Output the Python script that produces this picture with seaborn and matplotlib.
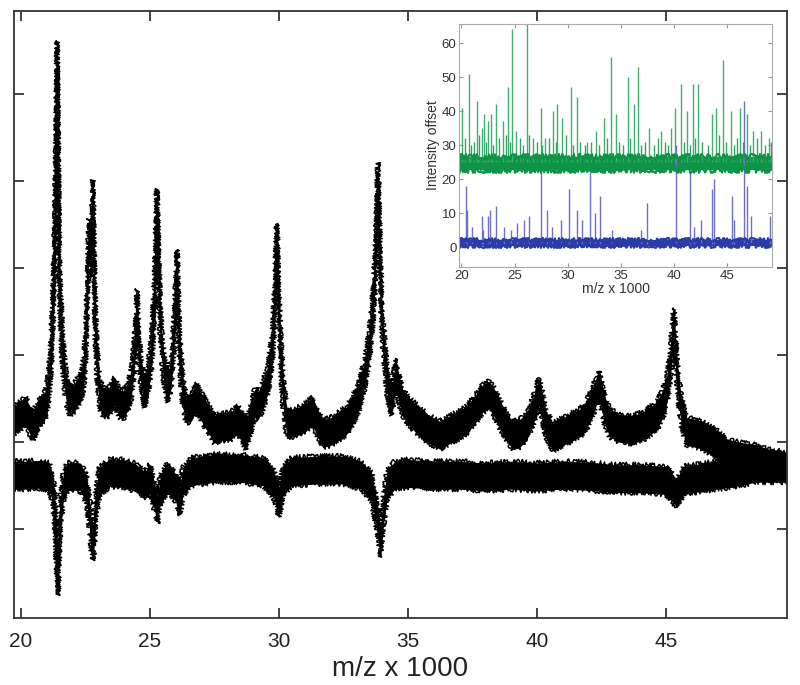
import numpy as np
import pandas as pd
import seaborn as sns
import matplotlib.pyplot as plt

# main panel: upper (positive) spectrum, centre of the noise band
upper_mz = [19.73, 19.95, 20.16, 20.30, 20.47, 20.62, 20.74, 20.90, 21.00, 21.10,
            21.18, 21.26, 21.32, 21.37, 21.40, 21.43, 21.47, 21.52, 21.60, 21.70,
            21.80, 21.90, 22.05, 22.20, 22.35, 22.45, 22.52, 22.58, 22.64, 22.70,
            22.75, 22.79, 22.83, 22.88, 22.95, 23.05, 23.20, 23.40, 23.64, 23.80,
            23.95, 24.10, 24.25, 24.35, 24.45, 24.50, 24.55, 24.65, 24.80, 24.95,
            25.08, 25.17, 25.23, 25.27, 25.32, 25.40, 25.50, 25.60, 25.70, 25.82,
            25.93, 26.00, 26.05, 26.10, 26.18, 26.28, 26.40, 26.60, 26.80, 27.00,
            27.20, 27.50, 27.80, 28.10, 28.40, 28.55, 28.70, 28.85, 29.07, 29.20,
            29.40, 29.60, 29.75, 29.85, 29.92, 29.98, 30.06, 30.15, 30.31, 30.60,
            30.90, 31.10, 31.30, 31.50, 31.70, 32.00, 32.30, 32.60, 32.85, 33.10,
            33.30, 33.50, 33.65, 33.75, 33.84, 33.92, 34.00, 34.12, 34.25, 34.38,
            34.45, 34.53, 34.62, 34.80, 35.08, 35.40, 35.80, 36.24, 36.60, 37.00,
            37.30, 37.67, 37.90, 38.14, 38.30, 38.57, 38.80, 39.07, 39.34, 39.60,
            39.85, 40.00, 40.08, 40.18, 40.35, 40.62, 41.00, 41.40, 41.67, 41.90,
            42.15, 42.30, 42.40, 42.50, 42.65, 42.83, 43.20, 43.72, 44.20, 44.65,
            44.90, 45.05, 45.18, 45.26, 45.31, 45.37, 45.45, 45.60, 45.81, 46.20,
            46.59, 47.00, 47.36, 47.80, 48.37, 49.00, 49.69]
upper_val = [2.25, 2.30, 2.36, 2.28, 2.18, 2.30, 2.36, 2.40, 2.48, 2.72,
             3.05, 3.70, 4.45, 5.50, 6.45, 5.50, 4.35, 3.65, 3.10, 2.75,
             2.55, 2.46, 2.50, 2.58, 2.66, 2.85, 3.20, 3.75, 4.40, 4.05,
             4.30, 4.85, 4.15, 3.40, 2.90, 2.55, 2.45, 2.46, 2.58, 2.45,
             2.42, 2.50, 2.62, 2.85, 3.20, 3.60, 3.15, 2.80, 2.56, 2.75,
             3.10, 3.65, 4.20, 4.75, 4.15, 3.40, 2.95, 2.72, 2.62, 2.80,
             3.20, 3.65, 4.05, 3.55, 2.95, 2.55, 2.38, 2.40, 2.52, 2.40,
             2.30, 2.15, 2.18, 2.18, 2.26, 2.18, 2.08, 2.20, 2.45, 2.42,
             2.55, 2.75, 3.10, 3.65, 4.35, 3.75, 3.10, 2.60, 2.22, 2.22,
             2.26, 2.30, 2.36, 2.22, 2.10, 2.12, 2.18, 2.24, 2.36, 2.52,
             2.75, 3.10, 3.55, 4.15, 5.05, 4.05, 3.40, 2.90, 2.60, 2.47,
             2.62, 2.80, 2.65, 2.45, 2.34, 2.25, 2.15, 2.08, 2.14, 2.20,
             2.26, 2.40, 2.50, 2.54, 2.48, 2.32, 2.18, 2.08, 2.10, 2.18,
             2.35, 2.50, 2.58, 2.45, 2.20, 2.06, 2.12, 2.18, 2.22, 2.30,
             2.45, 2.58, 2.66, 2.55, 2.35, 2.22, 2.16, 2.14, 2.20, 2.30,
             2.45, 2.62, 2.90, 3.20, 3.38, 3.10, 2.72, 2.35, 2.12, 2.10,
             2.05, 1.97, 1.88, 1.84, 1.82, 1.76, 1.72]

# main panel: lower (inverted) spectrum
lower_mz = [19.73, 20.20, 20.70, 21.10, 21.25, 21.33, 21.40, 21.43, 21.47, 21.53,
            21.65, 21.80, 22.00, 22.30, 22.55, 22.68, 22.76, 22.82, 22.90, 23.05,
            23.45, 23.90, 24.40, 24.80, 25.00, 25.20, 25.30, 25.40, 25.70, 26.05,
            26.16, 26.28, 26.60, 27.50, 28.50, 29.40, 29.80, 30.00, 30.15, 30.50,
            31.50, 32.50, 33.20, 33.60, 33.80, 33.95, 34.05, 34.20, 34.50, 35.00,
            36.00, 37.00, 38.00, 39.00, 40.00, 41.00, 42.00, 43.00, 44.00, 45.00,
            45.43, 45.70, 46.50, 47.50, 48.50, 49.69]
lower_val = [1.62, 1.62, 1.63, 1.60, 1.45, 1.10, 0.60, 0.40, 0.70, 1.20,
             1.50, 1.60, 1.61, 1.60, 1.45, 1.10, 0.80, 0.85, 1.30, 1.55,
             1.65, 1.64, 1.60, 1.50, 1.58, 1.35, 1.22, 1.45, 1.60, 1.45,
             1.32, 1.55, 1.66, 1.70, 1.70, 1.66, 1.52, 1.30, 1.55, 1.66,
             1.68, 1.68, 1.62, 1.48, 1.15, 0.84, 1.20, 1.52, 1.62, 1.64,
             1.62, 1.62, 1.60, 1.62, 1.60, 1.62, 1.61, 1.58, 1.58, 1.56,
             1.41, 1.56, 1.60, 1.64, 1.70, 1.70]
noise_half = 0.16  # half height of the noise band

# inset: peak-picked spikes
green_mz = [20.09, 20.72, 21.50, 21.91, 22.13, 22.51, 22.82, 23.23, 23.95, 24.42,
            24.79, 25.14, 26.14, 26.70, 27.46, 27.86, 28.65, 29.02, 29.49, 30.28,
            30.90, 31.84, 32.63, 33.41, 34.10, 34.50, 35.66, 36.23, 36.64, 37.64,
            38.73, 39.67, 40.08, 40.61, 41.24, 41.77, 42.27, 43.59, 43.97, 44.62,
            45.31, 46.19, 46.88, 47.44, 48.20, 48.92]
green_top = [41, 51, 43, 35, 39, 37, 39, 42, 37, 47,
             64, 34, 66, 32, 41, 32, 40, 42, 38, 47,
             44, 31, 34, 38, 56, 39, 50, 42, 53, 35,
             34, 35, 41, 48, 40, 48, 48, 39, 41, 55,
             40, 41, 39, 34, 34, 32]
# smaller green spikes just above the noise band
green_small_mz = [20.3, 20.9, 21.2, 21.7, 22.3, 23.0, 23.5, 24.2, 24.6, 25.5,
                  25.8, 26.4, 27.1, 27.6, 28.2, 28.9, 29.8, 30.5, 31.2, 31.6,
                  32.2, 32.9, 33.7, 34.8, 35.2, 35.9, 36.9, 37.3, 38.1, 38.5,
                  39.1, 39.4, 40.9, 41.5, 42.0, 42.6, 43.2, 44.2, 44.9, 45.6,
                  45.9, 46.5, 47.1, 47.8, 48.5, 49.1]
green_small_top = [32, 30, 31, 33, 31, 30, 32, 33, 31, 32,
                   30, 33, 31, 30, 32, 31, 33, 30, 31, 30,
                   31, 30, 32, 31, 30, 32, 30, 31, 30, 32,
                   31, 30, 31, 30, 32, 31, 30, 33, 31, 30,
                   32, 31, 30, 32, 30, 31]
blue_mz = [20.41, 20.56, 21.03, 21.97, 22.07, 22.51, 22.69, 23.23, 24.01, 24.64,
           25.26, 25.89, 26.36, 27.46, 28.02, 28.55, 29.40, 30.12, 30.84, 31.37,
           32.09, 32.53, 33.03, 34.19, 36.85, 37.48, 40.14, 41.49, 41.87, 42.49,
           43.59, 43.75, 45.47, 45.63, 46.57, 46.88, 47.19, 49.01]
blue_top = [18, 11, 6, 9, 5, 9, 11, 12, 6, 5,
            7, 8, 9, 22, 11, 6, 8, 17, 11, 8,
            22, 10, 15, 5, 5, 13, 30, 22, 6, 8,
            17, 20, 15, 8, 43, 18, 9, 9]
band_mz = [19.8, 49.2]
green_lo, green_hi = [22.8, 22.8], [26.6, 26.6]
blue_lo, blue_hi = [0.2, 0.2], [2.0, 2.0]

sns.set_style("white")
plt.rcParams['font.family'] = ['Liberation Sans', 'DejaVu Sans']

fig = plt.figure(figsize=(8, 6.85), dpi=100)
ax = fig.add_axes([0.0175, 0.0978, 0.9663, 0.886])

up = pd.DataFrame({'mz': upper_mz, 'val': upper_val})
lo = pd.DataFrame({'mz': lower_mz, 'val': lower_val})
for d in (up, lo):
    ax.fill_between(d['mz'], d['val'] - noise_half, d['val'] + noise_half,
                    color='black', lw=0)
    sns.lineplot(data=d, x='mz', y='val', color='black', lw=1, ax=ax)
    # ragged edges of the noise band
    for edge in (d['val'] - noise_half, d['val'] + noise_half):
        ln, = ax.plot(d['mz'], edge, color='black', lw=1.1)
        ln.set_sketch_params(scale=2.5, length=1.5, randomness=2)

ax.set_xlim(19.73, 49.7)
ax.set_ylim(-0.02, 6.95)
ax.set_xticks([20, 25, 30, 35, 40, 45])
ax.set_yticks([1, 2, 3, 4, 5, 6])
ax.set_yticklabels([])
ax.tick_params(direction='in', length=7, width=1.2, bottom=True, left=True,
               top=True, right=True, labelsize=15, pad=10, colors='#222222')
ax.set_xlabel('m/z x 1000', fontsize=20, labelpad=4, color='#222222')
ax.set_ylabel('')
for s in ax.spines.values():
    s.set_color('#333333')
    s.set_linewidth(1.3)

# inset
ins = fig.add_axes([0.574, 0.610, 0.391, 0.355])
ins.set_facecolor('white')
ins.vlines(green_small_mz, 25, green_small_top, color='#2ea562', lw=1.0)
ins.vlines(green_mz, 25, green_top, color='#3fae6e', lw=1.0)
ins.vlines(blue_mz, 1, blue_top, color='#6f6fc8', lw=1.0)
ins.fill_between(band_mz, green_lo, green_hi, color='#0e9447', lw=0)
ins.fill_between(band_mz, blue_lo, blue_hi, color='#2a3da6', lw=0)
for lo_, hi_, c, sc in ((green_lo, green_hi, '#0e9447', 3), (blue_lo, blue_hi, '#2a3da6', 2)):
    for edge in (lo_, hi_):
        ln, = ins.plot(band_mz, edge, color=c, lw=1.5)
        ln.set_sketch_params(scale=sc, length=1.5, randomness=2)
ins.set_xlim(19.8, 49.2)
ins.set_ylim(-5.9, 65.6)
ins.set_xticks([20, 25, 30, 35, 40, 45])
ins.set_yticks([0, 10, 20, 30, 40, 50, 60])
ins.tick_params(direction='in', length=3, width=0.8, bottom=True, left=True,
                top=True, right=True, labelsize=9.5, pad=2,
                color='#999999', labelcolor='#333333')
ins.set_xlabel('m/z x 1000', fontsize=10, labelpad=0, color='#333333')
ins.set_ylabel('Intensity offset', fontsize=10, labelpad=1, color='#333333')
for s in ins.spines.values():
    s.set_color('#aaaaaa')
    s.set_linewidth(0.8)

fig.savefig('out.png', dpi=100)
